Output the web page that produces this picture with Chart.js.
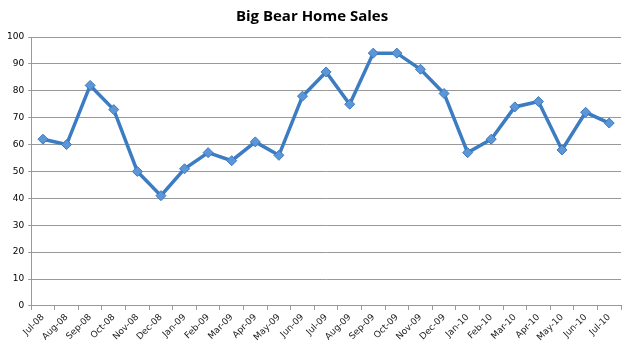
<!DOCTYPE html>
<html>
<head>
<meta charset="utf-8">
<script src="https://cdn.jsdelivr.net/npm/chart.js@4"></script>
<style>
  html, body { margin: 0; padding: 0; background: #fff; }
  #wrap { width: 629px; height: 351px; position: relative; }
</style>
</head>
<body>
<div id="wrap"><canvas id="chart"></canvas></div>
<script>
const months = ["Jul-08", "Aug-08", "Sep-08", "Oct-08", "Nov-08", "Dec-08", "Jan-09", "Feb-09", "Mar-09",
  "Apr-09", "May-09", "Jun-09", "Jul-09", "Aug-09", "Sep-09", "Oct-09", "Nov-09", "Dec-09", "Jan-10",
  "Feb-10", "Mar-10", "Apr-10", "May-10", "Jun-10", "Jul-10"]
const sales = [62, 60, 82, 73, 50, 41, 51, 57, 54, 61, 56, 78, 87, 75, 94, 94, 88, 79, 57, 62, 74, 76, 58, 72, 68]
const chartTitle = "Big Bear Home Sales"

const ctx = document.getElementById("chart").getContext("2d")

new Chart(ctx, {
  type: "line",
  data: {
    labels: months,
    datasets: [{
      label: "Sales",
      data: sales,
      borderColor: "#3b7cc3",
      borderWidth: 3.5,
      pointStyle: "rectRot",
      pointRadius: 5,
      pointBackgroundColor: "#5b97d8",
      pointBorderColor: "#3f78bb",
      pointBorderWidth: 1,
      tension: 0,
    }],
  },
  options: {
    responsive: true,
    maintainAspectRatio: false,
    animation: false,
    layout: { padding: { left: 3, right: 8, top: 0, bottom: 6 } },
    plugins: {
      legend: { display: false },
      tooltip: { enabled: false },
      title: {
        display: true,
        text: chartTitle,
        color: "#000",
        font: { family: "Open Sans", size: 15, weight: "bold" },
        padding: { top: 8, bottom: 11 },
      },
    },
    scales: {
      x: {
        offset: true,
        grid: {
          offset: true,
          drawOnChartArea: false,
          drawTicks: true,
          tickLength: 4,
          color: "#999",
        },
        border: { color: "#999" },
        ticks: {
          autoSkip: false,
          maxRotation: 45,
          minRotation: 45,
          color: "#222",
          padding: 2,
          font: { family: "DejaVu Sans", size: 9 },
        },
      },
      y: {
        min: 0,
        max: 100,
        ticks: {
          stepSize: 10,
          color: "#000",
          padding: 4,
          font: { family: "DejaVu Sans", size: 9 },
        },
        grid: {
          color: "#999",
          tickLength: 3,
        },
        border: { color: "#999" },
      },
    },
  },
})
</script>
</body>
</html>
